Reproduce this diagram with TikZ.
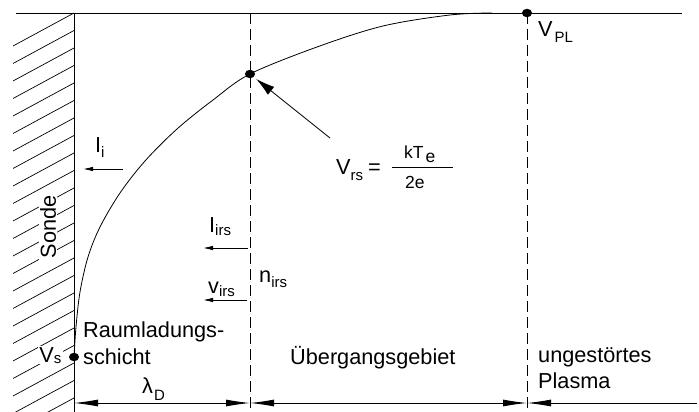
\documentclass[tikz,border=0pt]{standalone}
\usepackage{fontspec}
\setmainfont{Liberation Sans}
\usetikzlibrary{arrows.meta,shapes.geometric}
\newcommand{\sbs}[2][-4pt]{\raisebox{#1}{\fontsize{15}{16}\selectfont #2}}
\begin{document}
\begin{tikzpicture}[x=1pt,y=-1pt,
  lbl/.style={font=\fontsize{21.7}{25}\selectfont, inner sep=0pt},
  fraclbl/.style={font=\fontsize{17.5}{20}\selectfont, inner sep=0pt},
  lineA/.style={line width=0.8pt},
  dashline/.style={line width=0.8pt, dash pattern=on 11pt off 5pt},
  dot/.style={ellipse, fill, inner sep=0pt, minimum width=10pt, minimum height=8.5pt},
  dimarr/.style={line width=0.9pt, {Latex[length=24pt,width=7pt]}-{Latex[length=24pt,width=7pt]}},
  dimarrl/.style={line width=0.9pt, {Latex[length=24pt,width=7pt]}-},
  smallarr/.style={line width=0.9pt, -{Latex[length=10pt,width=4.5pt]}},
  bigarr/.style={line width=0.8pt, -{Latex[length=19pt,width=10pt]}},
  hatch/.style={line width=0.7pt}
]
\useasboundingbox (0,0) rectangle (699,412);

% hatching of the probe
\begin{scope}
  \clip (13,13) rectangle (74,412);
  \foreach \k in {0,...,26} {
    \draw[hatch] (13,{13+17.5*\k+33}) -- (74,{13+17.5*\k});
  }
\end{scope}

% frame lines
\coordinate (tl) at (16,13);
\coordinate (tr) at (682,13);
\coordinate (wt) at (74,13);
\coordinate (wb) at (74,412);
\coordinate (d1t) at (250,13);
\coordinate (d1b) at (250,412);
\coordinate (d2t) at (527,13);
\coordinate (d2b) at (527,412);
\draw[lineA] (tl) -- (tr);
\draw[lineA] (wt) -- (wb);
\draw[dashline] (d1t) -- (d1b);
\draw[dashline] (d2t) -- (d2b);

% potential curve
\draw[lineA] plot[smooth, tension=0.55] coordinates {
  (74,357) (76,327) (80,292) (88,257) (100,227) (120,193) (145,161)
  (177,129) (213,100) (250,74) (317,47) (383,26) (450,15) (492,13)};

% dots
\node[dot] (vs) at (74,357) {};
\node[dot] (rs) at (250,74) {};
\node[dot] (pl) at (527,13) {};

% labels with white background over hatching
\node[lbl, fill=white, rotate=90, inner sep=1.5pt] (sonde) at (48,227) {Sonde};
\node[lbl, fill=white, anchor=base east, inner xsep=1.5pt, inner ysep=1pt] (vslbl) at (63,362) {V\sbs[-1pt]{s}};

% currents
\node[lbl, anchor=base west] (ii) at (95,152) {I\sbs[-5pt]{i}};
\coordinate (iia) at (123,169);
\coordinate (iib) at (83,169);
\draw[smallarr] (iia) -- (iib);

\node[lbl, anchor=base west] (iirs) at (209,232) {I\sbs[-3pt]{irs}};
\coordinate (iirsa) at (248,248);
\coordinate (iirsb) at (203,248);
\draw[smallarr] (iirsa) -- (iirsb);

\node[lbl, anchor=base west] (virs) at (208,293) {v\sbs[-3pt]{irs}};
\coordinate (virsa) at (247,300);
\coordinate (virsb) at (203,300);
\draw[smallarr] (virsa) -- (virsb);

\node[lbl, anchor=base west] (nirs) at (259,282) {n\sbs[-5pt]{irs}};

% V_rs formula
\node[lbl, anchor=base west] (vrs) at (336,174) {V\sbs[-6pt]{rs}\hspace{5pt}=};
\coordinate (fa) at (392,167);
\coordinate (fb) at (453,167);
\draw[lineA] (fa) -- (fb);
\node[fraclbl, anchor=base west] (kte) at (404,158) {kT\hspace{2pt}\raisebox{-4pt}{e}};
\node[fraclbl, anchor=base west] (twoe) at (405,188) {2e};
\coordinate (vtail) at (330,138);
\draw[bigarr, shorten >=3pt] (vtail) -- (rs);

% V_PL
\node[lbl, anchor=base west] (vpl) at (538,37) {V\hspace{2pt}\sbs[-6pt]{PL}};

% region labels
\node[lbl, anchor=base west] (raum1) at (83,337) {Raumladungs-};
\node[lbl, anchor=base west] (raum2) at (83,364) {schicht};
\node[lbl, anchor=base west] (ueber) at (290,364) {Übergangsgebiet};
\node[lbl, anchor=base west] (ung1) at (538,362) {ungestörtes};
\node[lbl, anchor=base west] (ung2) at (538,388) {Plasma};
\node[lbl, anchor=base west] (lam) at (142,393) {λ\hspace{1pt}\sbs[-7pt]{D}};

% dimension line
\coordinate (m0) at (74,403);
\coordinate (m1) at (250,403);
\coordinate (m2) at (527,403);
\coordinate (m3) at (697,403);
\draw[dimarr] (m0) -- (m1);
\draw[dimarr] (m1) -- (m2);
\draw[dimarrl] (m2) -- (m3);
\end{tikzpicture}
\end{document}
